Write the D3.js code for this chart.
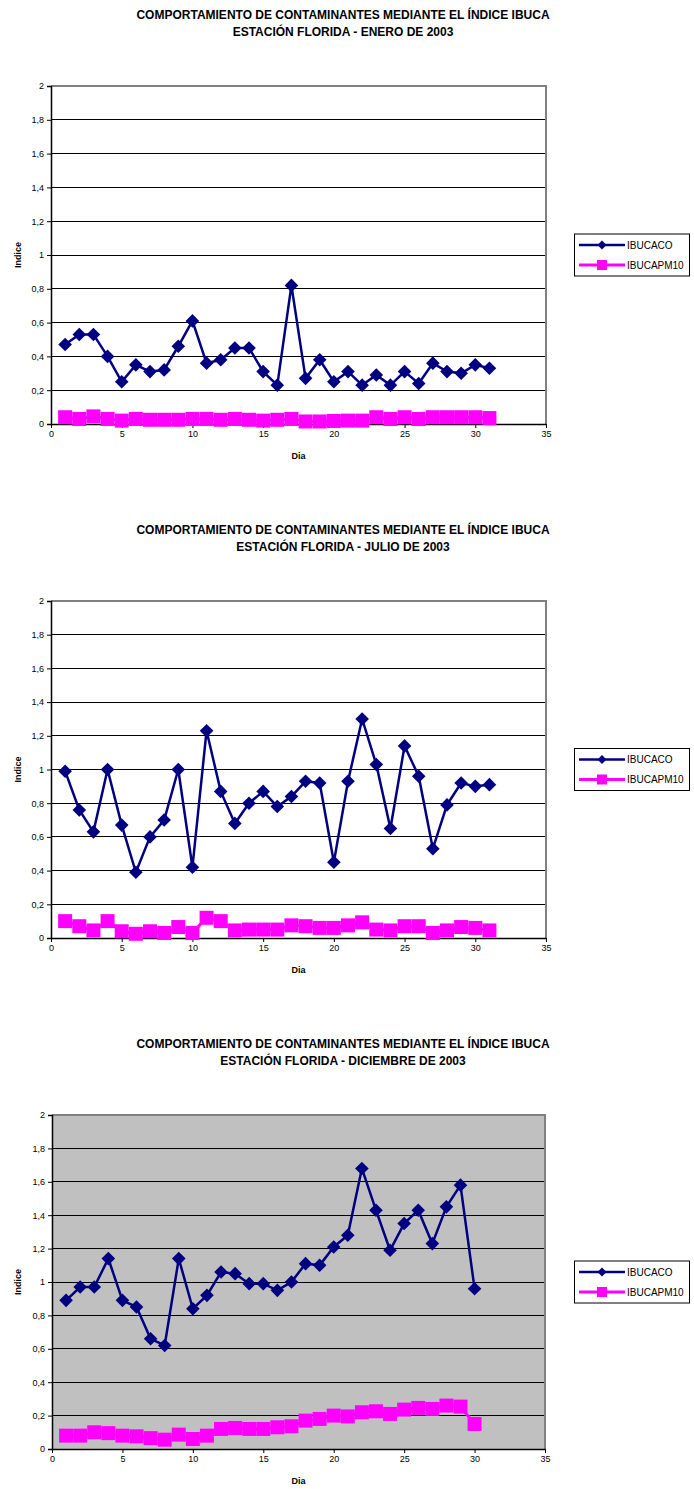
<!DOCTYPE html>
<html>
<head>
<meta charset="utf-8">
<script src="https://cdn.jsdelivr.net/npm/d3@7"></script>
<style>
  html, body { margin: 0; padding: 0; background: #ffffff; }
  svg { display: block; font-family: "Liberation Sans", Arial, sans-serif; }
</style>
</head>
<body>
<svg id="chart" width="694" height="1489"></svg>
<script>
// ---------- DATA ----------
const titleLine1 = "COMPORTAMIENTO DE CONTAMINANTES MEDIANTE EL ÍNDICE IBUCA";
const subtitles = ["ESTACIÓN FLORIDA - ENERO DE 2003", "ESTACIÓN FLORIDA - JULIO DE 2003", "ESTACIÓN FLORIDA - DICIEMBRE DE 2003"];
const seriesNames = ["IBUCACO", "IBUCAPM10"];
const xTicks = [0, 5, 10, 15, 20, 25, 30, 35];
const yTicks = [0, 0.2, 0.4, 0.6, 0.8, 1, 1.2, 1.4, 1.6, 1.8, 2];
const xLabel = "Dia";
const yLabel = "Indice";

const days31 = [1,2,3,4,5,6,7,8,9,10,11,12,13,14,15,16,17,18,19,20,21,22,23,24,25,26,27,28,29,30,31];
const days30 = [1,2,3,4,5,6,7,8,9,10,11,12,13,14,15,16,17,18,19,20,21,22,23,24,25,26,27,28,29,30];

const eneroCO   = [0.47,0.53,0.53,0.40,0.25,0.35,0.31,0.32,0.46,0.61,0.36,0.38,0.45,0.45,0.31,0.23,0.82,0.27,0.38,0.25,0.31,0.23,0.29,0.23,0.31,0.24,0.36,0.31,0.30,0.35,0.33];
const eneroPM10 = [0.04,0.03,0.045,0.03,0.02,0.03,0.025,0.025,0.025,0.03,0.03,0.025,0.03,0.025,0.02,0.025,0.03,0.015,0.015,0.018,0.02,0.02,0.04,0.03,0.04,0.03,0.04,0.04,0.04,0.04,0.035];

const julioCO   = [0.99,0.76,0.63,1.00,0.67,0.39,0.60,0.70,1.00,0.42,1.23,0.87,0.68,0.80,0.87,0.78,0.84,0.93,0.92,0.45,0.93,1.30,1.03,0.65,1.14,0.96,0.53,0.79,0.92,0.90,0.91];
const julioPM10 = [0.10,0.07,0.045,0.10,0.04,0.025,0.04,0.03,0.065,0.03,0.12,0.10,0.045,0.05,0.05,0.05,0.075,0.07,0.06,0.06,0.075,0.093,0.05,0.045,0.07,0.07,0.03,0.045,0.065,0.06,0.045];

const dicCO   = [0.89,0.97,0.97,1.14,0.89,0.85,0.66,0.62,1.14,0.84,0.92,1.06,1.05,0.99,0.99,0.95,1.00,1.11,1.10,1.21,1.28,1.68,1.43,1.19,1.35,1.43,1.23,1.45,1.58,0.96];
const dicPM10 = [0.08,0.08,0.10,0.095,0.08,0.076,0.065,0.056,0.086,0.06,0.08,0.12,0.126,0.12,0.12,0.13,0.136,0.17,0.18,0.20,0.195,0.22,0.226,0.21,0.236,0.246,0.24,0.26,0.254,0.15];

// ---------- LAYOUT ----------
const charts = [
  { subtitle: subtitles[0], days: days31, co: eneroCO, pm: eneroPM10, top: 86,   bottom: 424, left: 51, right: 546, titleY: 19,   bg: "#ffffff" },
  { subtitle: subtitles[1], days: days31, co: julioCO, pm: julioPM10, top: 601,  bottom: 938, left: 51, right: 546, titleY: 534,  bg: "#ffffff" },
  { subtitle: subtitles[2], days: days30, co: dicCO,   pm: dicPM10,   top: 1115, bottom: 1449, left: 52, right: 545, titleY: 1048, bg: "#c0c0c0" }
];

const svg = d3.select("#chart");
const navy = "#000080";
const magenta = "#ff00ff";

charts.forEach(c => {
  const g = svg.append("g");
  const x = d3.scaleLinear().domain([0, 35]).range([c.left, c.right]);
  const y = d3.scaleLinear().domain([0, 2]).range([c.bottom, c.top]);

  // titles
  g.append("text").attr("x", 343).attr("y", c.titleY).attr("text-anchor", "middle")
    .attr("font-size", 12).attr("font-weight", "bold").text(titleLine1);
  g.append("text").attr("x", 343).attr("y", c.titleY + 17).attr("text-anchor", "middle")
    .attr("font-size", 12).attr("font-weight", "bold").text(c.subtitle);

  // plot background
  g.append("rect").attr("x", c.left).attr("y", c.top)
    .attr("width", c.right - c.left).attr("height", c.bottom - c.top)
    .attr("fill", c.bg);

  // gridlines
  g.append("g").selectAll("line").data(yTicks.filter(v => v > 0 && v < 2)).join("line")
    .attr("x1", c.left).attr("x2", c.right)
    .attr("y1", d => y(d)).attr("y2", d => y(d))
    .attr("stroke", "#000000").attr("stroke-width", 1).attr("shape-rendering", "crispEdges");

  // top/right border (gray)
  g.append("path")
    .attr("d", `M${c.left},${c.top}H${c.right}V${c.bottom}`)
    .attr("fill", "none").attr("stroke", "#808080").attr("stroke-width", 2);

  // y axis
  const yAxis = d3.axisLeft(y).tickValues(yTicks).tickSize(4).tickPadding(3)
    .tickFormat(d => String(d).replace(".", ","));
  const ya = g.append("g").attr("transform", `translate(${c.left},0)`).call(yAxis);
  ya.select(".domain").attr("stroke", "#000").attr("stroke-width", 1.5);
  ya.selectAll(".tick line").attr("stroke", "#000");
  ya.selectAll(".tick text").attr("font-size", 9).attr("font-family", "Liberation Sans, Arial, sans-serif").attr("fill", "#000");

  // x axis
  const xAxis = d3.axisBottom(x).tickValues(xTicks).tickSize(4).tickPadding(3).tickSizeOuter(0);
  const xa = g.append("g").attr("transform", `translate(0,${c.bottom})`).call(xAxis);
  xa.select(".domain").attr("stroke", "#000").attr("stroke-width", 1.5);
  xa.selectAll(".tick line").attr("stroke", "#000");
  xa.selectAll(".tick text").attr("font-size", 9).attr("font-family", "Liberation Sans, Arial, sans-serif").attr("fill", "#000");

  // axis titles
  g.append("text").attr("x", (c.left + c.right) / 2).attr("y", c.bottom + 35)
    .attr("text-anchor", "middle").attr("font-size", 9).attr("font-weight", "bold").text(xLabel);
  g.append("text")
    .attr("transform", `translate(21,${(c.top + c.bottom) / 2}) rotate(-90)`)
    .attr("text-anchor", "middle").attr("font-size", 9).attr("font-weight", "bold").text(yLabel);

  // PM10 series
  const pmData = c.days.map((d, i) => [d, c.pm[i]]);
  g.append("path").datum(pmData)
    .attr("d", d3.line().x(d => x(d[0])).y(d => y(d[1])))
    .attr("fill", "none").attr("stroke", magenta).attr("stroke-width", 3);
  g.append("g").selectAll("rect").data(pmData).join("rect")
    .attr("x", d => x(d[0]) - 7).attr("y", d => y(d[1]) - 7)
    .attr("width", 14).attr("height", 14).attr("fill", magenta);

  // CO series
  const coData = c.days.map((d, i) => [d, c.co[i]]);
  g.append("path").datum(coData)
    .attr("d", d3.line().x(d => x(d[0])).y(d => y(d[1])))
    .attr("fill", "none").attr("stroke", navy).attr("stroke-width", 2.5);
  g.append("g").selectAll("path").data(coData).join("path")
    .attr("transform", d => `translate(${x(d[0])},${y(d[1])})`)
    .attr("d", "M0,-6.8L6.8,0L0,6.8L-6.8,0Z")
    .attr("fill", navy);

  // legend
  const ly = (c.top + c.bottom) / 2;
  const lg = g.append("g");
  lg.append("rect").attr("x", 574.5).attr("y", ly - 21).attr("width", 115).attr("height", 42)
    .attr("fill", "#fff").attr("stroke", "#000").attr("stroke-width", 1);
  const entries = [
    { name: seriesNames[0], color: navy, type: "diamond", dy: -10 },
    { name: seriesNames[1], color: magenta, type: "square", dy: 10 }
  ];
  entries.forEach(e => {
    const yy = ly + e.dy;
    lg.append("line").attr("x1", 579).attr("x2", 625).attr("y1", yy).attr("y2", yy)
      .attr("stroke", e.color).attr("stroke-width", e.type === "square" ? 3 : 2.5);
    if (e.type === "diamond") {
      lg.append("path").attr("transform", `translate(602,${yy})`)
        .attr("d", "M0,-4.5L4.5,0L0,4.5L-4.5,0Z").attr("fill", e.color);
    } else {
      lg.append("rect").attr("x", 597).attr("y", yy - 5).attr("width", 10).attr("height", 10).attr("fill", e.color);
    }
    lg.append("text").attr("x", 627).attr("y", yy + 3.5).attr("font-size", 10).text(e.name);
  });
});
</script>
</body>
</html>
